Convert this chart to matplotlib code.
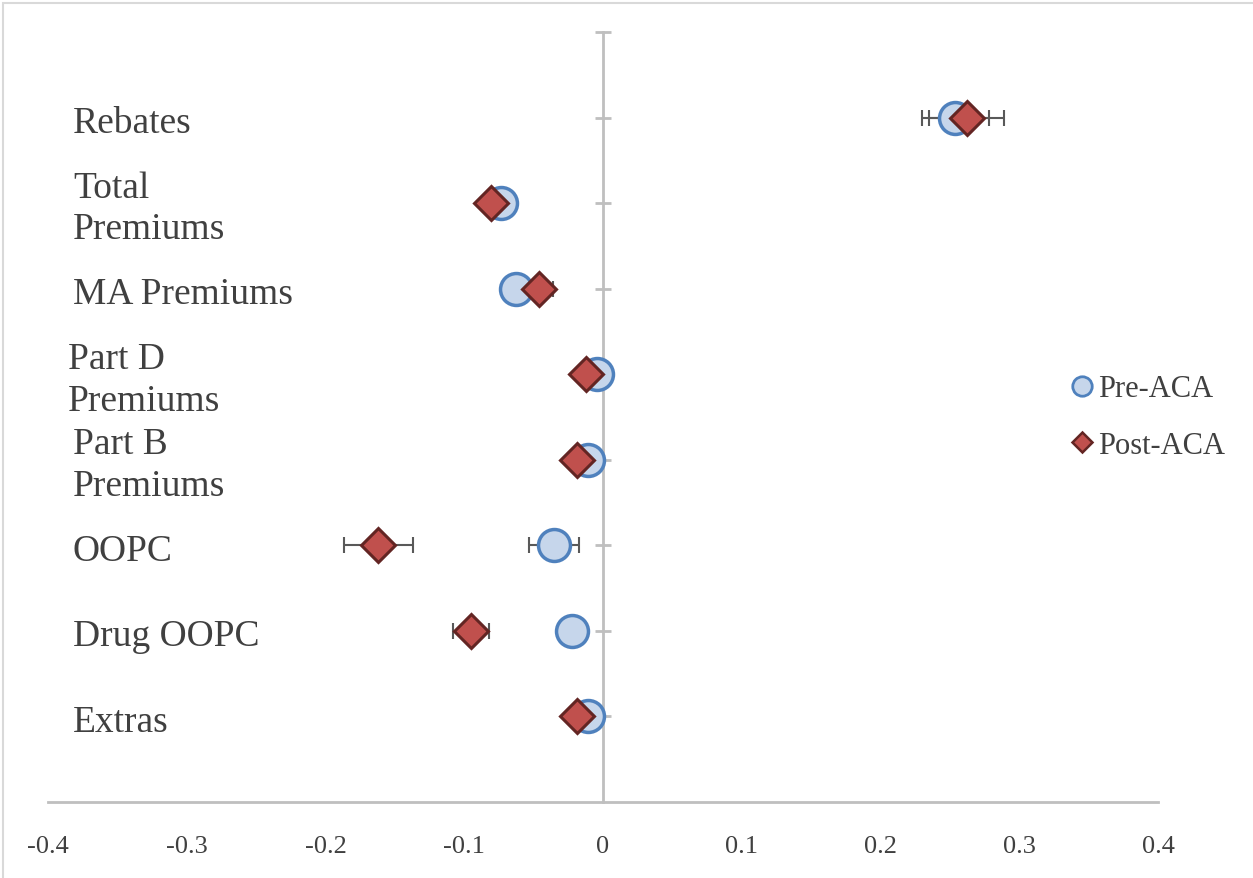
import matplotlib
matplotlib.use("Agg")
import matplotlib.pyplot as plt
import matplotlib.transforms as mtransforms
from matplotlib.lines import Line2D
from matplotlib.patches import Rectangle

# categories, top to bottom
categories = ["Rebates", "Total\nPremiums", "MA Premiums", "Part D\nPremiums",
              "Part B\nPremiums", "OOPC", "Drug OOPC", "Extras"]
pre_aca = [0.254, -0.0735, -0.063, -0.004, -0.011, -0.035, -0.022, -0.011]
post_aca = [0.262, -0.081, -0.046, -0.012, -0.019, -0.162, -0.095, -0.019]
pre_err = [0.024, 0, 0, 0, 0, 0.018, 0, 0]
post_err = [0.027, 0, 0.010, 0, 0, 0.025, 0.013, 0]
xticks = [-0.4, -0.3, -0.2, -0.1, 0, 0.1, 0.2, 0.3, 0.4]
xtick_labels = ["-0.4", "-0.3", "-0.2", "-0.1", "0", "0.1", "0.2", "0.3", "0.4"]

plt.rcParams["font.family"] = ["Liberation Serif", "DejaVu Serif"]
text_col = "#404040"
axis_col = "#bfbfbf"

fig = plt.figure(figsize=(12.53, 8.79), dpi=100)
ax = fig.add_axes([48 / 1253, 1 - 803 / 879, 1110 / 1253, 770 / 879])

n = len(categories)
ypos = [n - i for i in range(n)]

# error bars first so the markers sit on top
ax.errorbar(pre_aca, ypos, xerr=pre_err, fmt="none", ecolor="#595959",
            elinewidth=1.5, capsize=6, capthick=1.5, zorder=2)
ax.errorbar(post_aca, ypos, xerr=post_err, fmt="none", ecolor="#595959",
            elinewidth=1.5, capsize=6, capthick=1.5, zorder=2)
ax.plot(pre_aca, ypos, "o", ms=23, mfc="#c6d6eb", mec="#4f81bd", mew=2.5,
        ls="none", zorder=3)
ax.plot(post_aca, ypos, "D", ms=17, mfc="#c0504d", mec="#632523", mew=2.2,
        ls="none", zorder=4)

ax.set_xlim(-0.4, 0.4)
ax.set_ylim(0, 9)

for s in ["top", "right"]:
    ax.spines[s].set_visible(False)
ax.spines["left"].set_position(("data", 0))
ax.spines["left"].set_color(axis_col)
ax.spines["left"].set_linewidth(2)
ax.spines["bottom"].set_color(axis_col)
ax.spines["bottom"].set_linewidth(2)

ax.set_yticks(range(1, 10))
ax.set_yticklabels([])
ax.tick_params(axis="y", direction="inout", length=11, width=2, color=axis_col)
ax.set_xticks(xticks)
ax.set_xticklabels(xtick_labels)
ax.tick_params(axis="x", length=0, pad=24, labelsize=19, labelcolor=text_col)

# category labels on the left
trans = mtransforms.blended_transform_factory(fig.transFigure, ax.transData)
for lab, y in zip(categories, ypos):
    x = 68 / 1253 if lab.startswith("Part D") else 73 / 1253
    ax.text(x, y - 0.06, lab, transform=trans, ha="left", va="center",
            fontsize=27, color=text_col, linespacing=1.28)

handles = [
    Line2D([], [], marker="o", ls="none", ms=14, mfc="#c6d6eb", mec="#4f81bd", mew=2),
    Line2D([], [], marker="D", ms=10, ls="none", mfc="#c0504d", mec="#632523", mew=1.8),
]
leg = fig.legend(handles, ["Pre-ACA", "Post-ACA"], loc="center left",
                 bbox_to_anchor=(1042 / 1253, 1 - 418 / 879), frameon=False,
                 fontsize=22, handlelength=0.8, handletextpad=0.15,
                 labelspacing=0.9, labelcolor=text_col)

fig.patches.append(Rectangle((3 / 1253, -0.1), 1.2, 1.1 - 4 / 879, transform=fig.transFigure,
                             fill=False, edgecolor="#d9d9d9", lw=1.5))

fig.savefig("out.png", dpi=100)
